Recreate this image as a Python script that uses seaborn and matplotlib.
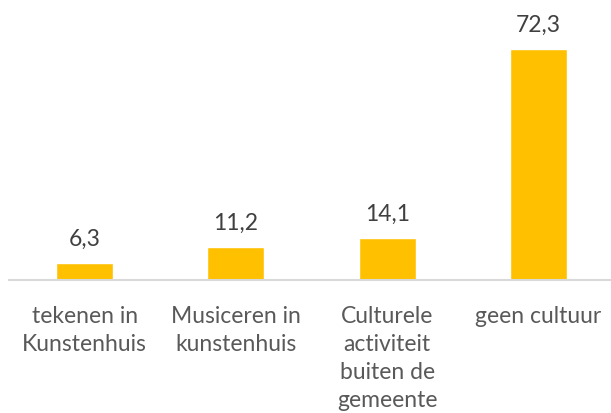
import pandas as pd
import seaborn as sns
import matplotlib.pyplot as plt

categories = ['tekenen in\nKunstenhuis', 'Musiceren in\nkunstenhuis',
              'Culturele\nactiviteit\nbuiten de\ngemeente', 'geen cultuur']
values = [6.3, 11.2, 14.1, 72.3]
value_labels = ['6,3', '11,2', '14,1', '72,3']

df = pd.DataFrame({'categorie': categories, 'waarde': values})

sns.set_style('white')
plt.rcParams['font.family'] = ['Lato', 'DejaVu Sans']

fig = plt.figure(figsize=(6.11, 4.14), dpi=100)
# axes in pixel terms: x 9..614, baseline at y=281, top at y=25
ax = fig.add_axes([9 / 611, 133 / 414, 605 / 611, 256 / 414])

sns.barplot(data=df, x='categorie', y='waarde', color='#FFC000',
            width=0.376, saturation=1, ax=ax)

ax.set_ylim(1.05, 80)
ax.set_xlim(-0.5, 3.5)
ax.bar_label(ax.containers[0], labels=value_labels, padding=10,
             fontsize=16.5, color='#404040')

for side in ['top', 'right', 'left']:
    ax.spines[side].set_visible(False)
ax.spines['bottom'].set_color('#D9D9D9')
ax.spines['bottom'].set_linewidth(1.5)
ax.set_yticks([])
ax.set_xlabel('')
ax.set_ylabel('')
ax.tick_params(axis='x', length=0, pad=18, labelsize=16.5, labelcolor='#595959')
for lab in ax.get_xticklabels():
    lab.set_linespacing(1.42)
    lab.set_verticalalignment('top')

fig.savefig('out.png', dpi=100)
